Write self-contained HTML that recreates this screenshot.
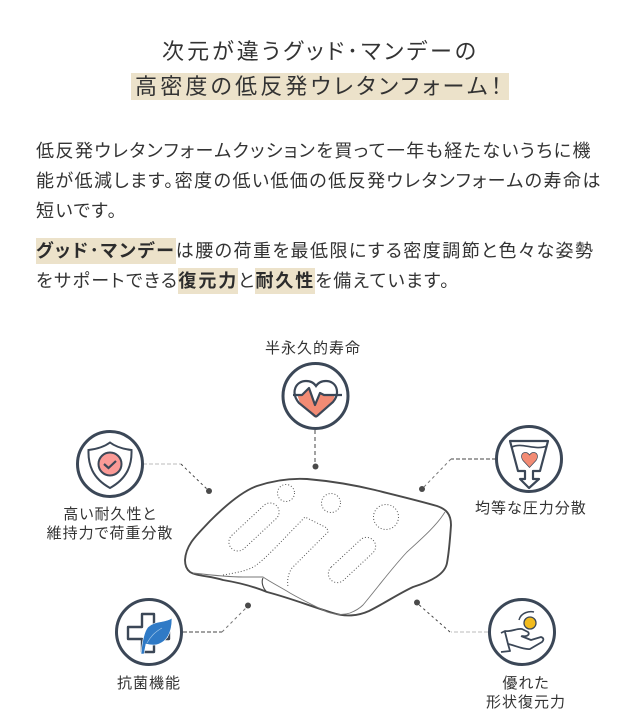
<!DOCTYPE html>
<html lang="ja"><head><meta charset="utf-8">
<style>
html,body{margin:0;padding:0;background:#fff}
#p{position:relative;width:640px;height:727px;overflow:hidden;background:#fff;font-family:"Liberation Sans","Noto Sans CJK JP",sans-serif;color:#333;font-feature-settings:"palt"}
.l{position:absolute;white-space:nowrap;font-weight:400}
.h{background:#ece2ca}
.c{text-align:center;font-size:15px;letter-spacing:1px;line-height:18px;color:#333;font-weight:400}
.t{font-size:18px;letter-spacing:1.47px;line-height:30px}
b{font-weight:700;color:#2c2c2c;letter-spacing:1.9px}
svg{position:absolute;left:0;top:0}
</style></head><body><div id="p">
<div class="l" style="left:162px;top:36px;font-size:22px;line-height:32px;letter-spacing:3.07px;">次元が違うグッド･マンデーの</div>
<div class="h" style="position:absolute;left:131px;top:73px;width:378px;height:27px"></div>
<div class="l" style="left:135px;top:71px;font-size:22px;line-height:32px;letter-spacing:3.2px;">高密度の低反発ウレタンフォーム！</div>

<div class="l t" style="left:36px;top:136px">低反発ウレタンフォームクッションを買って一年も経たないうちに機</div>
<div class="l t" style="left:36px;top:166px">能が低減します。密度の低い低価の低反発ウレタンフォームの寿命は</div>
<div class="l t" style="left:36px;top:196px">短いです。</div>
<div class="l t" style="left:36px;top:236px"><b class="h" style="padding:3px 0">グッド･マンデー</b>は腰の荷重を最低限にする密度調節と色々な姿勢</div>
<div class="l t" style="left:36px;top:266px">をサポートできる<b class="h" style="padding:3px 0">復元力</b>と<b class="h" style="padding:3px 0">耐久性</b>を備えています。</div>

<svg width="640" height="727" viewBox="0 0 640 727" fill="none">
<!-- cushion -->
<path d="M185 560C186 544 197 535 210 521C226 505 243 491 257 486C275 480 290 478 307 479C330 481 350 484 375 490C395 495 420 501 437 506C446 509 451 514 451 525C450 540 449 552 447 563C445 574 432 581 413 587C398 594 385 603 369 611C358 616 345 617 333 613C310 606 290 598 267 592C250 585 235 582 223 580C210 576 196 576 190 572C186 569 185 565 185 560Z" stroke="#4a4a4a" stroke-width="1.900" fill="#fff"/>
<path d="M193 573C210 575 230 577 243 577L263 577C272 583 282 588 290 593C302 600 315 606 327 612C336 615 344 615 350 613C355 611 360 608 363 605C378 587 392 568 407 552C420 540 435 527 443 515L445 512" stroke="#777" stroke-width=".9"/>
<path d="M263 578C261 582 263 588 266 591" stroke="#444" stroke-width="1.100"/>
<g stroke="#555" stroke-width="1" stroke-dasharray="1 2" fill="none">
<circle cx="286" cy="493" r="8.500"/><circle cx="331" cy="503" r="9.500"/><circle cx="386" cy="517" r="12.500"/>
<rect x="223" y="518" width="62" height="18" rx="9" transform="rotate(-43 254 527)"/>
<rect x="323" y="551" width="58" height="18" rx="9" transform="rotate(-43 352 560)"/>
<path d="M223 575C235 573 247 571 255 566C262 561 268 555 275 548L305 517L327 528L328 532L292 568C288 574 287 580 288 587"/>
</g>

<!-- connectors -->
<g stroke="#444" stroke-width="1" fill="none">
<path d="M315 430V467" stroke-dasharray="4 3"/>
<path d="M143 464H181" stroke="#bbb" stroke-dasharray="4 2"/><path d="M181 464L209 491" stroke-dasharray="2.500 3"/>
<path d="M496 459H451" stroke-dasharray="4 2"/><path d="M451 459L422 489" stroke="#777" stroke-dasharray="3 3"/>
<path d="M183 632H222" stroke-dasharray="4 2"/><path d="M222 632L248 606" stroke="#777" stroke-dasharray="3 3"/>
<path d="M488 632H451" stroke="#bbb" stroke-dasharray="4 2"/><path d="M450 632L417 603" stroke-dasharray="2.500 3"/>
</g>
<g fill="#4a4a4a"><circle cx="315.500" cy="466.500" r="3"/><circle cx="209" cy="491" r="3"/><circle cx="422" cy="489" r="3"/><circle cx="248" cy="605.500" r="3"/><circle cx="417" cy="602.500" r="3"/></g>

<!-- icon circles -->
<g stroke="#3b4757" stroke-width="3" fill="#fff">
<circle cx="315.500" cy="396" r="32.500"/><circle cx="110" cy="464" r="32.500"/><circle cx="529" cy="459" r="32.500"/><circle cx="149" cy="632" r="32.500"/><circle cx="522" cy="632" r="32.500"/>
</g>
<!-- heart -->
<path d="M297 394L303 394L310 388L315 402L319 394L323 394L335 394L333 402L317 417Q316 418 314 417L300 403Z" fill="#f28b74"/>
<path d="M293 395H302L309 388L315 405L320 393L324 395H342" stroke="#3b4757" stroke-width="2.200" stroke-linejoin="round"/>
<path d="M299 403C290 392 296 381 306 381C311 381 314 383 316 386C318 383 321 381 326 381C336 381 341 392 333 402L317 416Q316 417 315 416Z" stroke="#3b4757" stroke-width="2.200"/>
<!-- shield -->
<path d="M110 442.500C104 447 97 449 88.500 450C88 464 92 478 110 488C128 478 132 464 131.500 450C123 449 116 447 110 442.500Z" stroke="#3b4757" stroke-width="2" fill="#fff"/>
<circle cx="110" cy="464" r="11.500" fill="#fa9a96" stroke="#3b4757" stroke-width="2"/>
<path d="M104 464L108.500 468L116 461" stroke="#3b4757" stroke-width="2.200"/>
<!-- funnel -->
<path d="M510 441H548L540 471H533V479H539L529 488L520 479H525V471H518Z" stroke="#3b4757" stroke-width="2.200" stroke-linejoin="round" fill="#fff"/>
<path d="M512 447C522 442 535 451 547 446" stroke="#3b4757" stroke-width="1.600"/>
<path d="M529.500 467.500L523 460.500C520 456 522 452.500 525.500 452.500C527.500 452.500 528.500 453.500 529.500 455C530.500 453.500 531.500 452.500 533.500 452.500C537 452.500 539 456 536 460.500Z" fill="#f28b74" stroke="#3b4757" stroke-width=".7"/>
<!-- cross + leaf -->
<path d="M142 614H154V627H169V639H154V652H142V639H128V627H142Z" stroke="#3b4757" stroke-width="2.400" fill="#fff" stroke-linejoin="round"/>
<path d="M141 654C142 642 144 632 148 627C156 620 165 623 172 618C172 630 169 640 159 644C155 646 150 645 146 644L144 654Z" fill="#2f7ac6" stroke="#fff" stroke-width=".6"/>
<path d="M147 643C151 636 155 632 162 628" stroke="#a9cdec" stroke-width=".6"/>
<!-- hand + coin -->
<circle cx="530" cy="623" r="6" fill="#f2bb1d" stroke="#3b4757" stroke-width="1.300"/>
<path d="M519 620C521 612 530 611 534 612" stroke="#3b4757" stroke-width="1.500"/>
<path d="M501 633L505 631C512 632 517 628 522 629L528 632C530 634 528 637 522 636M521 636L531 640L541 637C544 638 544 640 542 642L530 649C524 650 514 645 508 644L510 651L501 652M505 632L508 644" stroke="#3b4757" stroke-width="1.800" stroke-linejoin="round"/>
</svg>

<div class="l c" style="left:265px;top:340px;">半永久的寿命</div>
<div class="l c" style="left:40px;width:140px;top:506px;">高い耐久性と</div>
<div class="l c" style="left:40px;width:140px;top:525px;">維持力で荷重分散</div>
<div class="l c" style="left:475px;top:500px;">均等な圧力分散</div>
<div class="l c" style="left:117px;top:675px;">抗菌機能</div>
<div class="l c" style="left:486px;width:80px;top:675px;">優れた</div>
<div class="l c" style="left:476px;width:100px;top:694px;">形状復元力</div>
</div></body></html>
